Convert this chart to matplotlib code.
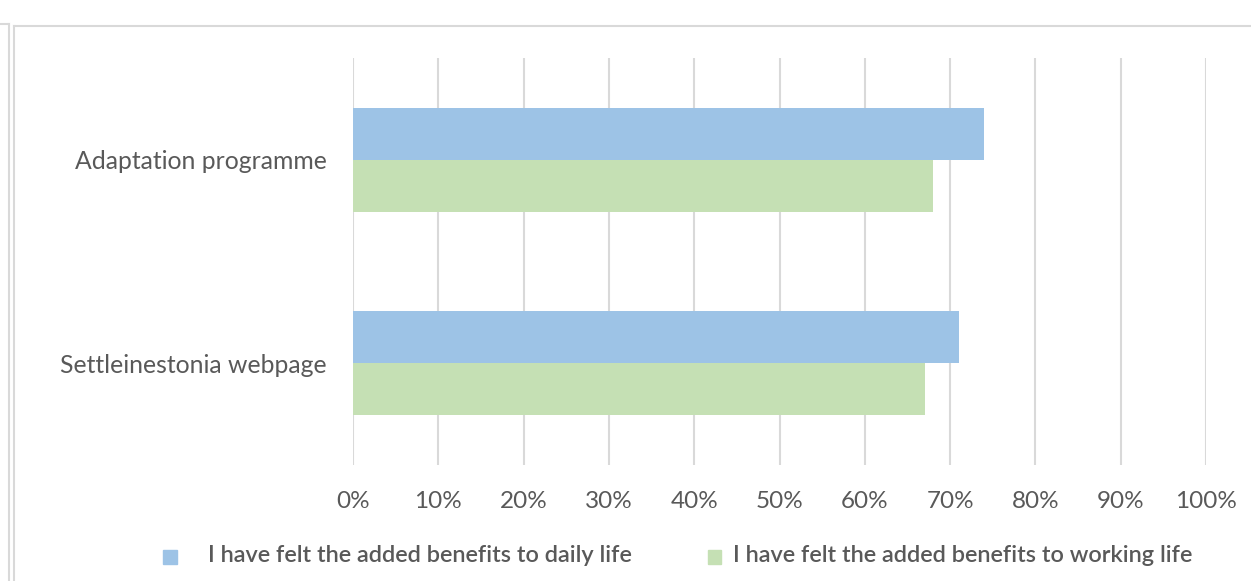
import matplotlib.pyplot as plt
from matplotlib.lines import Line2D
from matplotlib.ticker import FuncFormatter
import numpy as np

# Chart data
categories = ["Adaptation programme", "Settleinestonia webpage"]
daily_life = [74, 71]
working_life = [68, 67]
series_names = ["I have felt the added benefits to daily life",
                "I have felt the added benefits to working life"]
x_ticks = list(range(0, 101, 10))

blue = "#9DC3E6"
green = "#C5E0B4"
text_gray = "#595959"

fig = plt.figure(figsize=(12.51, 5.81), dpi=100)
ax = fig.add_axes([353 / 1251, 1 - 465 / 581, 853 / 1251, 407 / 581])

y = np.arange(len(categories))
h = 0.256
ax.barh(y - h / 2, daily_life, height=h, color=blue, zorder=3)
ax.barh(y + h / 2, working_life, height=h, color=green, zorder=3)

ax.set_xlim(0, 100)
ax.set_ylim(1.5, -0.5)
ax.set_xticks(x_ticks)
ax.xaxis.set_major_formatter(FuncFormatter(lambda v, p: f"{v:.0f}%"))
ax.set_yticks(y)
ax.set_yticklabels(categories, fontsize=17.8, color=text_gray, family="Lato")
ax.tick_params(axis="x", labelsize=17.5, colors=text_gray, length=0, pad=19)
ax.tick_params(axis="y", length=0, pad=19)
for lbl in ax.get_xticklabels():
    lbl.set_family("Lato")
ax.grid(axis="x", color="#D9D9D9", linewidth=1.5, zorder=0)
for s in ax.spines.values():
    s.set_visible(False)

# legend
fig.patches.append(plt.Rectangle((163 / 1251, 1 - 564 / 581), 14 / 1251, 14 / 581,
                                 transform=fig.transFigure, color=blue))
fig.text(208 / 1251, 1 - 556 / 581, series_names[0], fontsize=16.9, color=text_gray,
         family="Lato", weight="semibold", va="center")
fig.patches.append(plt.Rectangle((708 / 1251, 1 - 564 / 581), 13 / 1251, 14 / 581,
                                 transform=fig.transFigure, color=green))
fig.text(733 / 1251, 1 - 556 / 581, series_names[1], fontsize=16.9,
         color=text_gray, family="Lato", weight="semibold", va="center")

# frame lines
frame = "#D9D9D9"
fig.add_artist(Line2D([9 / 1251, 9 / 1251], [0, 1 - 24 / 581], color=frame, lw=1.5))
fig.add_artist(Line2D([14 / 1251, 14 / 1251], [0, 1 - 26 / 581], color=frame, lw=1.5))
fig.add_artist(Line2D([14 / 1251, 1], [1 - 26 / 581, 1 - 26 / 581], color=frame, lw=1.5))
fig.add_artist(Line2D([0, 9 / 1251], [1 - 24 / 581, 1 - 24 / 581], color=frame, lw=1.5))

fig.savefig("out.png", dpi=100)
